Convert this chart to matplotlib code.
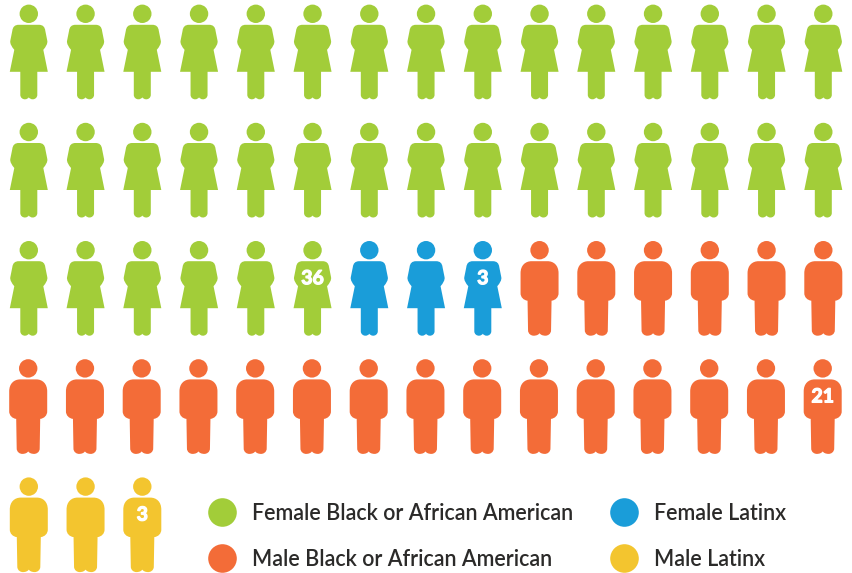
import matplotlib.pyplot as plt
import matplotlib.patheffects as pe
from matplotlib.path import Path
from matplotlib.patches import PathPatch, Circle
from matplotlib.transforms import Affine2D

groups = ['Female Black or African American', 'Female Latinx',
          'Male Black or African American', 'Male Latinx']
counts = [36, 3, 21, 3]
colors = ['#a2cd39', '#1a9dd9', '#f36c38', '#f3c52f']
is_female = [True, True, False, False]

legend_order = [0, 2, 1, 3]
per_row = 15

M, L, C, Z = Path.MOVETO, Path.LINETO, Path.CURVE4, Path.CLOSEPOLY

# icons are drawn around the centre of the head, y goes down
female_shape = [
    (M, (-10, 11)), (L, (10, 11)),
    (C, (14, 11)), (C, (16, 13)), (C, (16.5, 17)),
    (L, (18.5, 27)),
    (C, (19, 30)), (C, (17, 33)), (C, (14.5, 36)),
    (L, (19, 58)), (L, (8.5, 58)), (L, (8.5, 81)),
    (C, (8.5, 84)), (C, (6, 85.5)), (C, (4, 85.5)),
    (C, (2, 85.5)), (C, (0.5, 84.5)), (C, (0, 83.5)),
    (C, (-0.5, 84.5)), (C, (-2, 85.5)), (C, (-4, 85.5)),
    (C, (-6, 85.5)), (C, (-8.5, 84)), (C, (-8.5, 81)),
    (L, (-8.5, 58)), (L, (-19, 58)), (L, (-14.5, 36)),
    (C, (-17, 33)), (C, (-19, 30)), (C, (-18.5, 27)),
    (L, (-16.5, 17)),
    (C, (-16, 13)), (C, (-14, 11)), (C, (-10, 11)),
    (Z, (-10, 11)),
]
male_shape = [
    (M, (-8, 11)), (L, (8, 11)),
    (C, (14, 11)), (C, (19, 15)), (C, (19, 23)),
    (L, (19, 43)),
    (C, (19, 47)), (C, (16, 50)), (C, (12, 50.5)),
    (L, (11.5, 80)),
    (C, (11.5, 84)), (C, (8, 85.5)), (C, (6, 85.5)),
    (C, (3, 85.5)), (C, (1, 84.5)), (C, (0, 83)),
    (C, (-1, 84.5)), (C, (-3, 85.5)), (C, (-6, 85.5)),
    (C, (-8, 85.5)), (C, (-11.5, 84)), (C, (-11.5, 80)),
    (L, (-12, 50.5)),
    (C, (-16, 50)), (C, (-19, 47)), (C, (-19, 43)),
    (L, (-19, 23)),
    (C, (-19, 15)), (C, (-14, 11)), (C, (-8, 11)),
    (Z, (-8, 11)),
]


def make_path(shape):
    return Path([p[1] for p in shape], [p[0] for p in shape])


def draw_person(ax, x, y, female, color):
    path = make_path(female_shape if female else male_shape)
    trans = Affine2D().translate(x, y) + ax.transData
    ax.add_patch(PathPatch(path, facecolor=color, edgecolor='none', transform=trans))
    ax.add_patch(Circle((x, y), 9.2, facecolor=color, edgecolor='none'))


plt.rcParams['font.family'] = ['Lato', 'DejaVu Sans']

fig = plt.figure(figsize=(8.53, 5.73), dpi=100)
ax = fig.add_axes([0, 0, 1, 1])
ax.set_xlim(0, 853)
ax.set_ylim(573, 0)
ax.axis('off')

n = 0
for count, color, female in zip(counts, colors, is_female):
    for i in range(count):
        row = n // per_row
        col = n % per_row
        x = 28.8 + col * 56.75
        if row == 3:
            x -= 0.6
        y = 13.8 + row * 118.2
        draw_person(ax, x, y, female, color)
        n += 1
    # the last icon of a group carries the count
    t = ax.text(x, y + 28.5, str(count), color='white', fontsize=14, fontweight='bold',
                ha='center', va='center')
    t.set_path_effects([pe.withStroke(linewidth=0.9, foreground='white')])

legend_x = [222, 222, 624, 624]
legend_y = [512, 558, 512, 558]
for idx, lx, ly in zip(legend_order, legend_x, legend_y):
    ax.scatter([lx], [ly], s=424, color=colors[idx], linewidths=0)
    ax.text(lx + 30, ly + 1, groups[idx], color='#2b2a29', fontsize=15.5, fontweight='semibold',
            ha='left', va='center')

fig.savefig('out.png', dpi=100)
